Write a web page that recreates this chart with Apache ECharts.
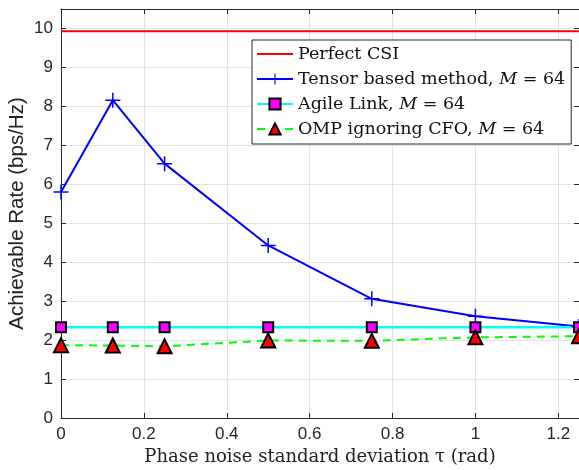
<!DOCTYPE html>
<html>
<head>
<meta charset="utf-8">
<script src="https://cdn.jsdelivr.net/npm/echarts@6/dist/echarts.min.js"></script>
<style>
  html, body { margin: 0; padding: 0; background: #fff; }
  #main { width: 579px; height: 470px; }
</style>
</head>
<body>
<div id="main"></div>
<script>
// phase noise std (rad)
var tau = [0, 0.125, 0.25, 0.5, 0.75, 1, 1.25];
var perfectCSI = [9.93, 9.93, 9.93, 9.93, 9.93, 9.93, 9.93];
var tensorRate = [5.80, 8.16, 6.53, 4.43, 3.06, 2.61, 2.35];
var agileRate = [2.33, 2.33, 2.33, 2.33, 2.33, 2.33, 2.33];
var ompRate = [1.87, 1.86, 1.84, 1.99, 1.98, 2.07, 2.10];

var names = ['Perfect CSI', 'Tensor based method, M = 64', 'Agile Link, M = 64', 'OMP ignoring CFO, M = 64'];

function pairs(xs, ys) {
    return xs.map(function (x, i) { return [x, ys[i]]; });
}

var plusPath = 'path://M-0.1,-1H0.1V-0.1H1V0.1H0.1V1H-0.1V0.1H-1V-0.1H-0.1Z';
var axisColor = '#262626';
var sans = 'Liberation Sans';
var serif = 'DejaVu Serif';

var myChart = echarts.init(document.getElementById('main'));
myChart.setOption({
    animation: false,
    grid: {left: 61, top: 9, right: 0, bottom: 52, containLabel: false, outerBoundsMode: 'none'},
    legend: {
        orient: 'vertical',
        left: 252, top: 40,
        backgroundColor: '#fff',
        borderColor: axisColor,
        borderWidth: 1,
        borderRadius: 0,
        padding: [5, 6, 6, 4],
        itemGap: 7,
        itemWidth: 36,
        itemHeight: 14,
        data: [
            {name: names[0], icon: 'path://M0,0H36V2H0Z'},
            names[1], names[2], names[3]
        ],
        formatter: function (name) {
            var m = name.match(/^(.*), M = 64$/);
            if (!m) return '{a|' + name + '}';
            return '{a|' + m[1] + ', }{b|M}{a| = 64}';
        },
        textStyle: {
            fontFamily: serif, fontSize: 17.5, color: '#111',
            rich: {
                a: {fontFamily: serif, fontSize: 17.5, color: '#111', lineHeight: 20},
                b: {fontFamily: serif, fontSize: 17.5, fontStyle: 'italic', color: '#111', lineHeight: 20}
            }
        }
    },
    xAxis: [{
        type: 'value', min: 0, max: 1.25, interval: 0.2,
        name: 'Phase noise standard deviation τ (rad)',
        nameLocation: 'middle', nameGap: 30, nameMoveOverlap: false,
        nameTextStyle: {fontFamily: serif, fontSize: 18, color: '#222'},
        axisLine: {onZero: false, lineStyle: {color: axisColor, width: 1}},
        axisTick: {inside: true, length: 5, lineStyle: {color: axisColor}},
        axisLabel: {fontFamily: sans, fontSize: 17, color: axisColor, margin: 8, showMaxLabel: false},
        splitLine: {show: true, lineStyle: {color: '#e3e3e3', width: 1}}
    }, {
        type: 'value', min: 0, max: 1.25, interval: 0.2, position: 'top',
        axisLine: {onZero: false, lineStyle: {color: axisColor, width: 1}},
        axisTick: {inside: true, length: 5, lineStyle: {color: axisColor}},
        axisLabel: {show: false},
        splitLine: {show: false}
    }],
    yAxis: [{
        type: 'value', min: 0, max: 10.5, interval: 1,
        name: 'Achievable Rate (bps/Hz)',
        nameLocation: 'middle', nameGap: 33, nameMoveOverlap: false,
        nameTextStyle: {fontFamily: sans, fontSize: 20.5, color: '#222'},
        axisLine: {show: true, onZero: false, lineStyle: {color: axisColor, width: 1}},
        axisTick: {show: true, inside: true, length: 5, lineStyle: {color: axisColor}},
        axisLabel: {fontFamily: sans, fontSize: 17, color: axisColor, margin: 8, showMaxLabel: false},
        splitLine: {show: true, lineStyle: {color: '#e3e3e3', width: 1}}
    }, {
        type: 'value', min: 0, max: 10.5, interval: 1, position: 'right',
        axisLine: {show: true, onZero: false, lineStyle: {color: axisColor, width: 1}},
        axisTick: {show: true, inside: true, length: 5, lineStyle: {color: axisColor}},
        axisLabel: {show: false},
        splitLine: {show: false}
    }],
    series: [
        {
            name: names[0], type: 'line', data: pairs(tau, perfectCSI),
            symbol: 'none',
            lineStyle: {color: '#ff0000', width: 2},
            itemStyle: {color: '#ff0000'}
        },
        {
            name: names[1], type: 'line', data: pairs(tau, tensorRate),
            symbol: plusPath, symbolSize: 15,
            lineStyle: {color: '#0000ff', width: 2},
            itemStyle: {color: '#0000ff'}
        },
        {
            name: names[2], type: 'line', data: pairs(tau, agileRate),
            symbol: 'rect', symbolSize: 10,
            lineStyle: {color: '#00ffff', width: 2.5},
            itemStyle: {color: '#ff00ff', borderColor: '#000', borderWidth: 2}
        },
        {
            name: names[3], type: 'line', data: pairs(tau, ompRate),
            symbol: 'triangle', symbolSize: 14,
            lineStyle: {color: '#00ff00', width: 2, type: [8, 6]},
            itemStyle: {color: '#ff0000', borderColor: '#000', borderWidth: 2}
        }
    ]
});
</script>
</body>
</html>
